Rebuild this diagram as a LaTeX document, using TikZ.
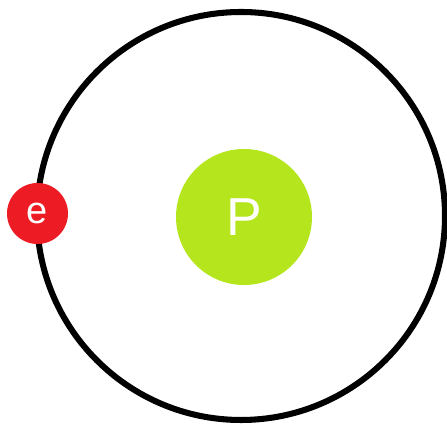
\documentclass[tikz,border=0pt]{standalone}
\usepackage{fontspec}
\setmainfont{Liberation Sans}
\usepackage{xcolor}
\usetikzlibrary{positioning}

\definecolor{elecred}{HTML}{ED1C24}
\definecolor{protgreen}{HTML}{B5E61D}

\begin{document}
\begin{tikzpicture}[
		x=0.025cm,
		y=0.025cm,
		line cap=round,
		line join=round,
		orbit/.style={
			draw=black,
			line width=4.3pt
		},
		particle/.style={
			circle,
			inner sep=0pt,
			text=white
		},
		proton/.style={
			particle,
			fill=protgreen,
			minimum size=136*0.025cm,
			font=\fontsize{38}{38}\selectfont
		},
		electron/.style={
			particle,
			fill=elecred,
			minimum size=61*0.025cm,
			font=\fontsize{27}{27}\selectfont
		}
		]
		
		% frame
		\useasboundingbox (0,0) rectangle (447,425);
		
		% nucleus centre
		\coordinate (N) at (241, 209);
		
		% orbit
		\draw[orbit] (N) circle (204);
		
		% proton
		\node[proton] (P) at (244, 208) {P};
		
		% electron on the orbit
		\node[electron] (e) at (37.5, 211.5) {e};
\end{tikzpicture}
\end{document}
